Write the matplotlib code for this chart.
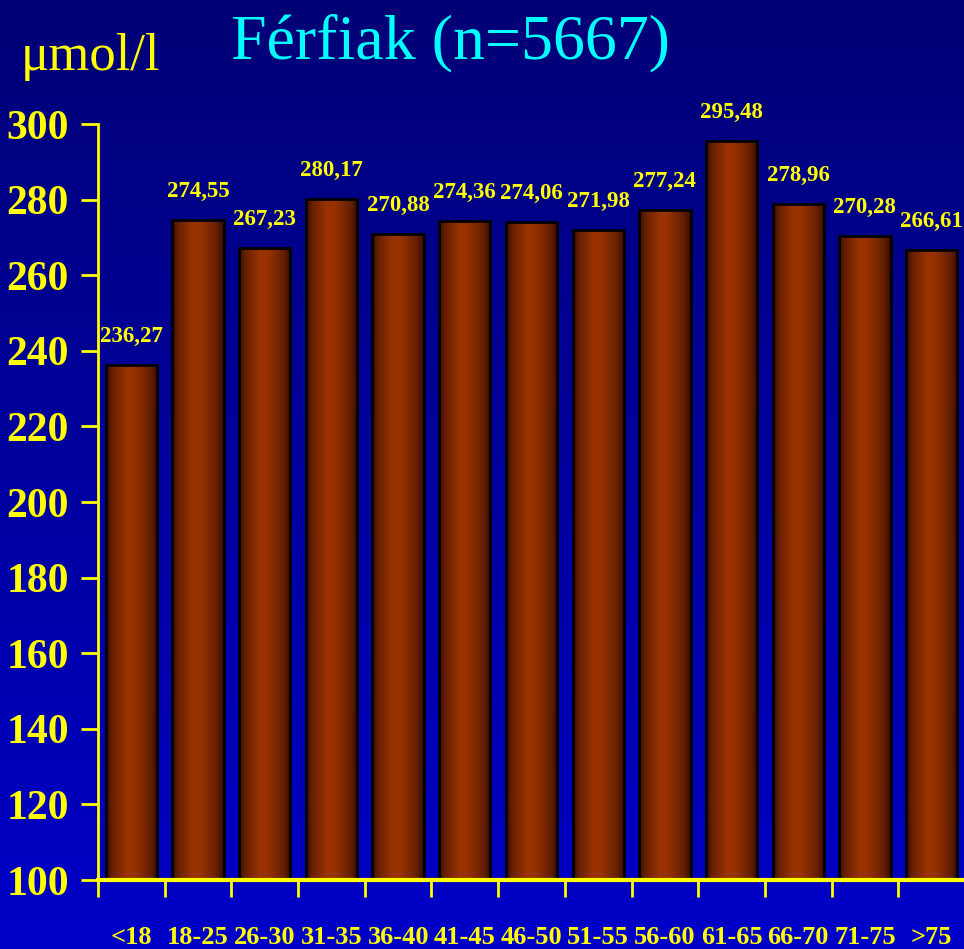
import numpy as np
import matplotlib
matplotlib.use("Agg")
import matplotlib.pyplot as plt
from matplotlib.colors import LinearSegmentedColormap

# korcsoportok es atlagertekek (umol/l)
groups = ['<18', '18-25', '26-30', '31-35', '36-40', '41-45', '46-50',
          '51-55', '56-60', '61-65', '66-70', '71-75', '>75']
values = [236.27, 274.55, 267.23, 280.17, 270.88, 274.36, 274.06,
          271.98, 277.24, 295.48, 278.96, 270.28, 266.61]
yticks = list(range(100, 301, 20))

plt.rcParams['font.family'] = ['Liberation Serif', 'DejaVu Serif']
yellow = '#ffff00'
base = 100

fig = plt.figure(figsize=(9.64, 9.49), dpi=100)

# kek hatter, fentrol lefele vilagosodik
bg = fig.add_axes([0, 0, 1, 1], zorder=-1)
bg_cmap = LinearSegmentedColormap.from_list('bg', ['#000076', '#0000c8'])
bg.imshow(np.linspace(0, 1, 256).reshape(-1, 1), cmap=bg_cmap,
          aspect='auto', extent=[0, 1, 0, 1])
bg.set_axis_off()

ax = fig.add_axes([0.1017, 0.0727, 0.8993, 0.7966])
ax.set_facecolor('none')

x = np.arange(len(groups))
heights = [v - base for v in values]
bars = ax.bar(x, heights, width=0.77, bottom=base, facecolor='none',
              edgecolor='black', linewidth=2, zorder=3)

# barna oszlopok vizszintes szinatmenettel
bar_cmap = LinearSegmentedColormap.from_list(
    'bar', [(0.0, '#360c00'), (0.12, '#682000'), (0.4, '#9a3300'),
            (0.55, '#973200'), (0.85, '#682000'), (1.0, '#360c00')])
grad = np.linspace(0, 1, 128).reshape(1, -1)
for b in bars:
    x0 = b.get_x()
    y0 = b.get_y()
    im = ax.imshow(grad, cmap=bar_cmap, aspect='auto', zorder=2,
                   extent=[x0, x0 + b.get_width(), y0, y0 + b.get_height()])
    im.set_clip_path(b)

for xi, v in zip(x, values):
    ax.annotate(f'{v:.2f}'.replace('.', ','), (xi, v), xytext=(0, 13),
                textcoords='offset points', ha='center', va='bottom',
                color=yellow, fontsize=16.5, fontweight='bold',
                annotation_clip=False)

ax.set_xlim(-0.5, len(groups) - 0.5)
ax.set_ylim(100, 300)

ax.set_yticks(yticks)
ax.tick_params(axis='y', colors=yellow, length=12, width=2, pad=9,
               labelsize=30)
for t in ax.get_yticklabels():
    t.set_fontweight('bold')

ax.set_xticks(x)
ax.set_xticklabels(groups)
ax.set_xticks(np.arange(-0.5, len(groups) - 0.5), minor=True)
ax.tick_params(axis='x', which='major', length=0, colors=yellow, pad=33,
               labelsize=19)
ax.tick_params(axis='x', which='minor', length=12, width=2, color=yellow)
for t in ax.get_xticklabels():
    t.set_fontweight('bold')

for side in ['top', 'right']:
    ax.spines[side].set_visible(False)
for side, lw in [('left', 2), ('bottom', 3)]:
    ax.spines[side].set_color(yellow)
    ax.spines[side].set_linewidth(lw)
    ax.spines[side].set_zorder(4)

fig.text(0.467, 0.938, 'Férfiak (n=5667)', ha='center', va='baseline',
         color='#00ffff', fontsize=46)
fig.text(0.022, 0.926, 'μmol/l', ha='left', va='baseline',
         color=yellow, fontsize=38)

fig.savefig('out.png', dpi=100)
